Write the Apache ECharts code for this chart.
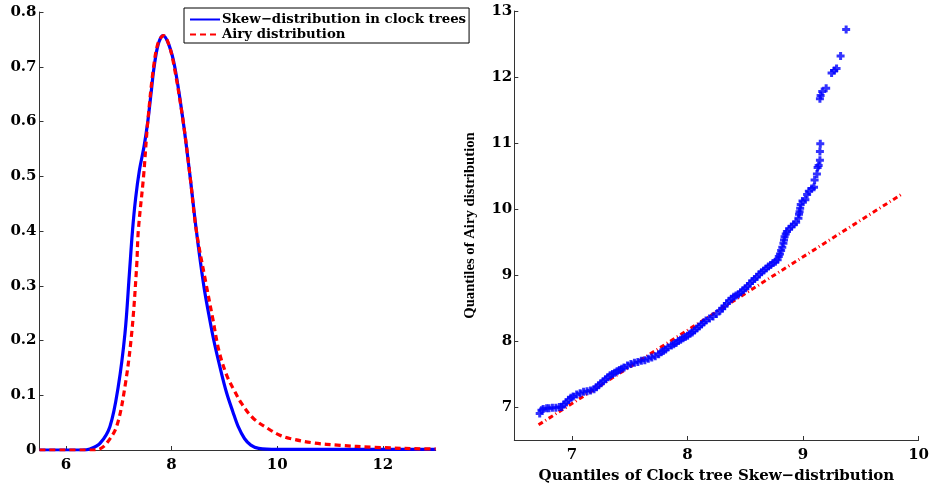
<!DOCTYPE html>
<html><head><meta charset="utf-8">
<script src="https://cdn.jsdelivr.net/npm/echarts@6/dist/echarts.min.js"></script>
<style>html,body{margin:0;padding:0;background:#fff}#c{width:932px;height:489px}</style>
</head><body><div id="c"></div>
<script>
// Left panel: probability density curves
const skewX = [5.5,6.3,6.456,6.645,6.834,6.991,7.118,7.20,7.26,7.32,7.39,7.48,7.55,7.61,7.67,7.75,7.84,7.95,8.06,8.22,8.35,8.47,8.61,8.70,8.80,8.92,9.04,9.16,9.26,9.38,9.5,9.65,10.0,13];
const skewY = [0,0,0.002,0.012,0.043,0.116,0.213,0.32,0.40,0.46,0.51,0.555,0.6,0.65,0.7,0.742,0.757,0.74,0.7,0.6,0.5,0.4,0.3,0.25,0.2,0.15,0.105,0.07,0.043,0.021,0.009,0.003,0.001,0.001];
const airyX = [5.5,6.5,6.645,6.77,6.96,7.118,7.245,7.339,7.37,7.47,7.55,7.66,7.75,7.85,7.95,8.05,8.22,8.35,8.47,8.66,8.78,8.90,9.05,9.18,9.325,9.545,9.86,10.05,10.24,10.68,11.19,11.82,12.95,13];
const airyY = [0,0,0.002,0.012,0.043,0.116,0.213,0.335,0.4,0.5,0.6,0.7,0.745,0.757,0.74,0.7,0.6,0.5,0.4,0.3,0.24,0.18,0.135,0.11,0.085,0.058,0.037,0.027,0.021,0.013,0.0085,0.005,0.002,0.002];
const leftXTicks = [6,8,10,12];
const leftYTicks = [0,0.1,0.2,0.3,0.4,0.5,0.6,0.7,0.8];

// Right panel: QQ plot
const qqX = [6.72,6.735,6.75,6.78,6.80,6.83,6.86,6.89,6.91,6.93,6.95,6.97,6.99,7.01,7.04,7.07,7.10,7.13,7.16,7.19,7.21,7.23,7.25,7.27,7.29,7.31,7.33,7.35,7.37,7.39,7.41,7.43,7.45,7.48,7.51,7.54,7.57,7.60,7.63,7.66,7.69,7.72,7.75,7.77,7.79,7.81,7.83,7.86,7.88,7.90,7.92,7.94,7.96,7.98,8.00,8.02,8.04,8.06,8.08,8.10,8.12,8.14,8.16,8.19,8.22,8.25,8.28,8.30,8.32,8.34,8.36,8.38,8.40,8.42,8.44,8.46,8.48,8.50,8.52,8.54,8.56,8.58,8.60,8.62,8.64,8.66,8.68,8.70,8.72,8.74,8.76,8.78,8.79,8.80,8.81,8.82,8.83,8.835,8.84,8.85,8.86,8.88,8.90,8.92,8.94,8.96,8.965,8.97,8.975,8.98,8.995,9.02,9.035,9.05,9.075,9.095,9.10,9.12,9.126,9.135,9.146,9.146,9.149,9.146,9.152,9.166,9.20,9.247,9.27,9.29,9.325,9.373];
const qqY = [6.90,6.95,6.97,6.98,6.98,6.99,6.99,7.00,7.00,7.04,7.07,7.11,7.14,7.16,7.19,7.21,7.23,7.24,7.25,7.27,7.30,7.33,7.36,7.39,7.42,7.45,7.48,7.50,7.52,7.54,7.56,7.58,7.60,7.63,7.65,7.67,7.68,7.70,7.71,7.73,7.75,7.77,7.80,7.83,7.85,7.87,7.90,7.93,7.95,7.97,8.00,8.02,8.04,8.06,8.08,8.11,8.13,8.16,8.19,8.22,8.25,8.28,8.31,8.34,8.37,8.41,8.46,8.49,8.53,8.57,8.61,8.64,8.67,8.69,8.71,8.74,8.77,8.80,8.83,8.87,8.91,8.94,8.97,9.01,9.04,9.07,9.10,9.13,9.15,9.18,9.20,9.23,9.28,9.32,9.37,9.42,9.48,9.53,9.58,9.62,9.66,9.70,9.73,9.77,9.80,9.86,9.92,9.96,10.01,10.07,10.12,10.14,10.22,10.27,10.31,10.33,10.44,10.53,10.63,10.66,10.74,10.87,10.99,11.67,11.72,11.78,11.83,12.06,12.10,12.13,12.32,12.72];
const refX = [6.71,9.85];
const refY = [6.73,10.22];
const rightXTicks = [7,8,9,10];
const rightYTicks = [7,8,9,10,11,12,13];

const zip = (a,b) => a.map((v,i)=>[v,b[i]]);
const FONT = 'DejaVu Serif';
const axisCol = '#333';
function axisBase(ticks, margin){
  return {
    axisLine:{show:true,lineStyle:{color:axisCol,width:1}},
    axisTick:{show:true,inside:true,length:4,customValues:ticks,lineStyle:{color:axisCol}},
    axisLabel:{customValues:ticks,color:'#000',fontFamily:FONT,fontWeight:'bold',fontSize:15,margin:margin},
    splitLine:{show:false}
  };
}
const SKEW = 'Skew\u2212distribution in clock trees';
const AIRY = 'Airy distribution';

const chart = echarts.init(document.getElementById('c'));
chart.setOption({
  animation:false,
  backgroundColor:'#fff',
  grid:[
    {left:39.5,right:496.3,top:12,bottom:39},
    {left:514.3,right:12,top:11,bottom:43}
  ],
  legend:{
    data:[{name:SKEW,itemStyle:{opacity:0}},{name:AIRY,itemStyle:{opacity:0}}],
    orient:'vertical',left:184,top:8,
    itemWidth:30,itemHeight:14,itemGap:2,
    padding:[5,3,2,5],
    borderColor:'#000',borderWidth:1,backgroundColor:'#fff',
    textStyle:{fontFamily:FONT,fontWeight:'bold',fontSize:13.3,color:'#000',padding:[0,0,0,-3]}
  },
  xAxis:[
    Object.assign(axisBase(leftXTicks,8),{type:'value',gridIndex:0,min:5.5,max:13}),
    Object.assign(axisBase(rightXTicks,8),{type:'value',gridIndex:1,min:6.5,max:10,
      name:'Quantiles of Clock tree Skew\u2212distribution',nameLocation:'middle',nameGap:29,
      nameTextStyle:{fontFamily:FONT,fontWeight:'bold',fontSize:15,color:'#000'}})
  ],
  yAxis:[
    Object.assign(axisBase(leftYTicks,3),{type:'value',gridIndex:0,min:0,max:0.8}),
    Object.assign(axisBase(rightYTicks,2),{type:'value',gridIndex:1,min:6.5,max:13,
      name:'Quantiles of Airy distribution',nameLocation:'middle',nameGap:37,
      nameTextStyle:{fontFamily:'Liberation Serif',fontWeight:'bold',fontSize:14.7,color:'#000'}})
  ],
  series:[
    {name:SKEW,type:'line',xAxisIndex:0,yAxisIndex:0,
     data:zip(skewX,skewY),smooth:0.35,symbol:'none',
     lineStyle:{color:'#0000ff',width:3.2},itemStyle:{color:'#0000ff'}},
    {name:AIRY,type:'line',xAxisIndex:0,yAxisIndex:0,
     data:zip(airyX,airyY),smooth:0.35,symbol:'none',
     lineStyle:{color:'#ff0000',width:3.2,type:[6,4]},itemStyle:{color:'#ff0000'}},
    {name:'qq',type:'scatter',xAxisIndex:1,yAxisIndex:1,data:zip(qqX,qqY),
     symbol:'path://M2.5,0H5.5V2.5H8V5.5H5.5V8H2.5V5.5H0V2.5H2.5Z',symbolSize:8,
     itemStyle:{color:'#0000ff'}},
    {name:'ref',type:'line',xAxisIndex:1,yAxisIndex:1,data:zip(refX,refY),symbol:'none',z:1,
     lineStyle:{color:'#ff0000',width:3,type:[5,3,1,3]}}
  ]
});
</script></body></html>
